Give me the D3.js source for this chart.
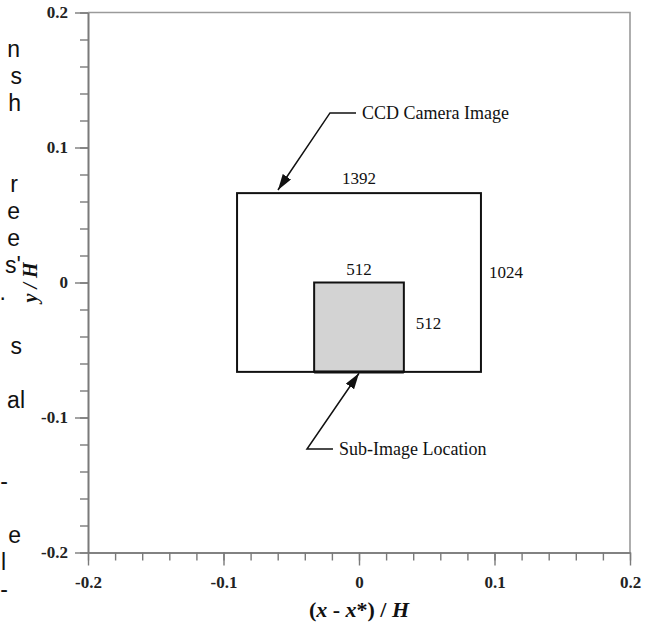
<!DOCTYPE html>
<html><head><meta charset="utf-8">
<script src="https://cdn.jsdelivr.net/npm/d3@7"></script>
<style>body{margin:0;background:#fff}svg{display:block}</style>
</head><body>
<script>
// ---- data ----
const xTickValues = [-0.2, -0.1, 0, 0.1, 0.2];
const xTickLabels = ["-0.2", "-0.1", "0", "0.1", "0.2"];
const yTickValues = [-0.2, -0.1, 0, 0.1, 0.2];
const yTickLabels = ["-0.2", "-0.1", "0", "0.1", "0.2"];
const minorTickValues = d3.range(-10, 11).map(i => i * 0.02);
const cameraSizePx = [1392, 1024];      // CCD sensor width x height
const subImageSizePx = [512, 512];      // sub-image width x height
const cameraHalfWidth = 0.09;           // (x - x*)/H
const cameraCallout = { label: "CCD Camera Image", pts: [[-0.0022, 0.1256], [-0.0214, 0.1256], [-0.0598, 0.0685]] };
const subCallout = { label: "Sub-Image Location", pts: [[-0.0192, -0.1233], [-0.0384, -0.1233], [0.0, -0.0672]] };
const sideText = ["n", "s", "h", "", "", "r", "e", "e", "s'", ".", "", "s", "", "al", "", "", "-", "", "e", "l", "-"];

// ---- layout ----
const W = 651, H = 625;
const svg = d3.select("body").append("svg").attr("width", W).attr("height", H);
svg.append("rect").attr("width", W).attr("height", H).attr("fill", "#fff");
const x = d3.scaleLinear().domain([-0.2, 0.2]).range([88, 630]);
const y = d3.scaleLinear().domain([-0.2, 0.2]).range([552.5, 12.5]);
const serif = "'Liberation Serif','Times New Roman',serif";
const axisColor = "#7a7a7a";

// clipped text from neighbouring page column
const sideEnd = [20, 22, 21, 0, 0, 18, 20, 20, 21, 6, 0, 22, 0, 25, 0, 0, 8, 0, 21, 6, 8];
svg.append("g").selectAll("text").data(sideText).join("text")
  .attr("x", (d, i) => sideEnd[i]).attr("y", (d, i) => 57 + i * 27)
  .attr("text-anchor", "end")
  .attr("font-family", "'Liberation Sans',Arial,sans-serif").attr("font-size", 23)
  .attr("fill", "#111").text(d => d);

// frame (top, right)
svg.append("path").attr("d", `M${x(-0.2)},${y(0.2)}H${x(0.2)}V${y(-0.2)}`)
  .attr("fill", "none").attr("stroke", "#9a9a9a").attr("stroke-width", 1.6);

function styleAxis(g) {
  g.selectAll("path.domain").attr("stroke", axisColor).attr("stroke-width", 1.6);
  g.selectAll(".tick line").attr("stroke", axisColor).attr("stroke-width", 1.4);
  g.selectAll("text").attr("font-family", serif).attr("font-weight", "bold")
    .attr("font-size", 17).attr("fill", "#222");
}
// x axis
svg.append("g").attr("transform", `translate(0,${y(-0.2)})`)
  .call(d3.axisBottom(x).tickValues(minorTickValues).tickSize(8).tickSizeOuter(0).tickFormat(""))
  .call(styleAxis);
svg.append("g").attr("transform", `translate(0,${y(-0.2)})`)
  .call(d3.axisBottom(x).tickValues(xTickValues).tickSize(13).tickSizeOuter(0).tickPadding(10)
    .tickFormat((d, i) => xTickLabels[i]))
  .call(styleAxis);
// y axis
svg.append("g").attr("transform", `translate(${x(-0.2)},0)`)
  .call(d3.axisLeft(y).tickValues(minorTickValues).tickSize(8).tickSizeOuter(0).tickFormat(""))
  .call(styleAxis);
svg.append("g").attr("transform", `translate(${x(-0.2)},0)`)
  .call(d3.axisLeft(y).tickValues(yTickValues).tickSize(13).tickSizeOuter(0).tickPadding(7)
    .tickFormat((d, i) => yTickLabels[i]))
  .call(styleAxis);

// axis titles
const xt = svg.append("text").attr("x", x(0)).attr("y", 617).attr("text-anchor", "middle")
  .attr("font-family", serif).attr("font-weight", "bold").attr("font-size", 22).attr("fill", "#111");
xt.append("tspan").text("(");
xt.append("tspan").attr("font-style", "italic").text("x");
xt.append("tspan").text(" - ");
xt.append("tspan").attr("font-style", "italic").text("x");
xt.append("tspan").text("*) / ");
xt.append("tspan").attr("font-style", "italic").text("H");
svg.append("text").attr("transform", `translate(30,${y(0)}) rotate(-90)`)
  .attr("text-anchor", "middle").attr("dy", "0.35em")
  .attr("font-family", serif).attr("font-weight", "bold").attr("font-style", "italic")
  .attr("font-size", 20).attr("fill", "#111").text("y / H");

// rectangles
const camHalfH = cameraHalfWidth * cameraSizePx[1] / cameraSizePx[0];
const subW = 2 * cameraHalfWidth * subImageSizePx[0] / cameraSizePx[0];
const subH = 2 * camHalfH * subImageSizePx[1] / cameraSizePx[1];
const cam = { x0: -cameraHalfWidth, x1: cameraHalfWidth, y0: -camHalfH, y1: camHalfH };
const sub = { x0: -subW / 2, x1: subW / 2, y0: -camHalfH, y1: -camHalfH + subH };

svg.append("rect").attr("x", x(cam.x0)).attr("y", y(cam.y1))
  .attr("width", x(cam.x1) - x(cam.x0)).attr("height", y(cam.y0) - y(cam.y1))
  .attr("fill", "none").attr("stroke", "#111").attr("stroke-width", 2);
svg.append("rect").attr("x", x(sub.x0)).attr("y", y(sub.y1))
  .attr("width", x(sub.x1) - x(sub.x0)).attr("height", y(sub.y0) - y(sub.y1))
  .attr("fill", "#d3d3d3").attr("stroke", "#111").attr("stroke-width", 2);
svg.append("line").attr("x1", x(sub.x0)).attr("x2", x(sub.x1)).attr("y1", y(sub.y0)).attr("y2", y(sub.y0))
  .attr("stroke", "#111").attr("stroke-width", 3);

// dimension labels
const numFont = t => t.attr("font-family", serif).attr("font-size", 17).attr("fill", "#111");
svg.append("text").attr("x", x(0)).attr("y", y(cam.y1) - 9).attr("text-anchor", "middle").text(cameraSizePx[0]).call(numFont);
svg.append("text").attr("x", x(cam.x1) + 8).attr("y", y(0) - 5).attr("text-anchor", "start").text(cameraSizePx[1]).call(numFont);
svg.append("text").attr("x", x(0)).attr("y", y(sub.y1) - 8).attr("text-anchor", "middle").text(subImageSizePx[0]).call(numFont);
svg.append("text").attr("x", x(sub.x1) + 12).attr("y", y((sub.y0 + sub.y1) / 2) + 2).attr("text-anchor", "start").text(subImageSizePx[1]).call(numFont);

// callouts
svg.append("defs").append("marker").attr("id", "ah")
  .attr("viewBox", "0 0 16 10").attr("refX", 16).attr("refY", 5)
  .attr("markerWidth", 16).attr("markerHeight", 10).attr("markerUnits", "userSpaceOnUse")
  .attr("orient", "auto")
  .append("path").attr("d", "M0,0L16,5L0,10Z").attr("fill", "#111");
const line = d3.line().x(d => x(d[0])).y(d => y(d[1]));
[cameraCallout, subCallout].forEach(c => {
  svg.append("path").attr("d", line(c.pts)).attr("fill", "none")
    .attr("stroke", "#111").attr("stroke-width", 1.5).attr("marker-end", "url(#ah)");
  svg.append("text").attr("x", x(c.pts[0][0]) + 6).attr("y", y(c.pts[0][1])).attr("dy", "0.33em")
    .attr("font-family", serif).attr("font-size", 18).attr("fill", "#111").text(c.label);
});
</script>
</body></html>
